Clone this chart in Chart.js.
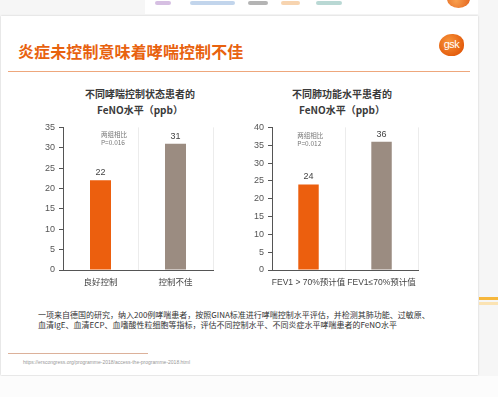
<!DOCTYPE html>
<html>
<head>
<meta charset="utf-8">
<script src="https://cdn.jsdelivr.net/npm/chart.js@4.4.1/dist/chart.umd.min.js"></script>
<style>
  html, body { margin: 0; padding: 0; }
  body {
    width: 498px; height: 397px; overflow: hidden; position: relative;
    background: #f6f6f6;
    font-family: "Liberation Sans", "Noto Sans CJK SC", sans-serif;
  }
  .strip { position: absolute; left: 145px; top: 0; width: 333px; height: 14px; background: #fff; }
  .logo-bit { position: absolute; height: 4px; top: 1px; border-radius: 2px; opacity: 0.55; }
  .card {
    position: absolute; left: 1px; top: 16px; width: 477px; height: 359px;
    background: #fff; box-shadow: 0 0 2px rgba(0,0,0,0.18);
  }
  .below { position: absolute; left: 0; top: 376px; width: 498px; height: 21px; background: #fcfcfc; }
  .title {
    position: absolute; left: 18px; top: 39px; font-size: 16px; font-weight: bold;
    color: #e8620f; font-family: "Noto Sans CJK SC", sans-serif; letter-spacing: 0.1px;
  }
  .rule { position: absolute; left: 8px; top: 71px; width: 462px; height: 1px; background: #eea77c; }
  .gsk {
    position: absolute; left: 439px; top: 34px; width: 25px; height: 22px;
    border-radius: 55% 45% 50% 50%; background: radial-gradient(circle at 40% 35%, #f8953a, #e35b0c 75%);
    color: #fff; font-size: 11px; line-height: 20px; text-align: center; letter-spacing: -0.5px;
  }
  .gsk-top {
    position: absolute; left: 447px; top: -10px; width: 23px; height: 18px;
    border-radius: 50%; background: radial-gradient(circle at 40% 60%, #f8953a, #e35b0c 75%); opacity: 0.9;
  }
  .ctitle {
    position: absolute; font-size: 10px; font-weight: bold; color: #3a3a3a; text-align: center;
    line-height: 16px; font-family: "Noto Sans CJK SC", sans-serif;
  }
  canvas { position: absolute; }
  .desc {
    position: absolute; left: 38px; top: 310px; font-size: 8px; line-height: 10px; color: #333;
    font-family: "Noto Sans CJK SC", sans-serif; white-space: nowrap;
  }
  .foot-rule { position: absolute; left: 8px; top: 353px; width: 140px; height: 1px; background: #dcb19a; }
  .url { position: absolute; left: 23px; top: 359px; font-size: 5px; color: #999; white-space: nowrap; }
  .streak { position: absolute; left: 479px; width: 19px; height: 3px; }
</style>
</head>
<body>
<div class="strip"></div>
<div class="logo-bit" style="left:155px;width:16px;background:#b48acb"></div>
<div class="logo-bit" style="left:190px;width:45px;background:#8fb3dd"></div>
<div class="logo-bit" style="left:248px;width:20px;background:#777"></div>
<div class="logo-bit" style="left:281px;width:19px;background:#f0b070"></div>
<div class="logo-bit" style="left:316px;width:26px;background:#7fb8b0"></div>
<div class="gsk-top"></div>

<div class="card"></div>
<div class="below"></div>
<div class="streak" style="top:297px;background:#f6b73c"></div>
<div class="streak" style="top:302px;background:#fbe3b3"></div>

<div class="title">炎症未控制意味着哮喘控制不佳</div>
<div class="rule"></div>
<div class="gsk">gsk</div>

<div class="ctitle" style="left:60px;top:86px;width:160px">不同哮喘控制状态患者的<br>FeNO水平（ppb）</div>
<div class="ctitle" style="left:262px;top:86px;width:160px">不同肺功能水平患者的<br>FeNO水平（ppb）</div>

<canvas id="chart_control" width="188" height="177" style="left:30px;top:118px"></canvas>
<canvas id="chart_lung" width="186" height="177" style="left:239px;top:118px"></canvas>

<div class="desc">一项来自德国的研究，纳入200例哮喘患者，按照GINA标准进行哮喘控制水平评估，并检测其肺功能、过敏原、<br>血清IgE、血清ECP、血嗜酸性粒细胞等指标，评估不同控制水平、不同炎症水平哮喘患者的FeNO水平</div>
<div class="foot-rule"></div>
<div class="url">https://erscongress.org/programme-2018/access-the-programme-2018.html</div>

<script>
// data
const control_labels = ['良好控制', '控制不佳'];
const control_values = [22, 31];
const control_note   = ['两组相比', 'P=0.016'];
const control_max    = 35;

const lung_labels = ['FEV1 > 70%预计值', 'FEV1≤70%预计值'];
const lung_values = [24, 36];
const lung_note   = ['两组相比', 'P=0.012'];
const lung_max    = 40;

const tick_step  = 5;
const bar_colors = ['#ec5f0e', '#9b8c81'];

// value labels over the bars + the small p-value note
const bar_text = {
    id: 'bar_text',
    afterDatasetsDraw(chart, args, opts) {
        const ctx = chart.ctx;
        const meta = chart.getDatasetMeta(0);
        ctx.save();
        ctx.font = '9px "Liberation Sans", sans-serif';
        ctx.fillStyle = '#444';
        ctx.textAlign = 'center';
        ctx.textBaseline = 'bottom';
        meta.data.forEach((bar, i) => {
            ctx.fillText(chart.data.datasets[0].data[i], bar.x, bar.y - 3);
        });
        // note sits just right of the first bar's left edge, near the top
        const first = meta.data[0];
        const x = first.x - first.width / 2 + opts.dx;
        const y = chart.scales.y.getPixelForValue(opts.at);
        ctx.font = '6.5px "Noto Sans CJK SC", sans-serif';
        ctx.fillStyle = '#777';
        ctx.textAlign = 'left';
        ctx.textBaseline = 'middle';
        opts.lines.forEach((line, i) => ctx.fillText(line, x, y + i * 8));
        ctx.restore();
    }
};

function make_config(labels, values, ymax, note, note_at, note_dx) {
    return {
        type: 'bar',
        data: {
            labels: labels,
            datasets: [{
                data: values,
                backgroundColor: bar_colors,
                categoryPercentage: 1,
                barPercentage: 0.28
            }]
        },
        options: {
            animation: false,
            responsive: false,
            events: [],
            layout: { padding: { top: 9, right: 5, left: 0, bottom: 0 } },
            plugins: {
                legend: { display: false },
                tooltip: { enabled: false },
                bar_text: { lines: note, at: note_at, dx: note_dx }
            },
            scales: {
                x: {
                    grid: { display: true, offset: true, color: '#ececec', drawTicks: false },
                    border: { display: true, color: '#555', width: 1 },
                    ticks: {
                        color: '#444', padding: 8, maxRotation: 0, minRotation: 0, autoSkip: false,
                        font: { size: 8.5, family: '"Liberation Sans", "Noto Sans CJK SC", sans-serif' }
                    },
                    afterFit(scale) { scale.height = 25; }
                },
                y: {
                    min: 0,
                    max: ymax,
                    grid: { display: true, drawOnChartArea: false, drawTicks: true, tickLength: 4, color: '#555' },
                    border: { display: true, color: '#555', width: 1 },
                    ticks: { stepSize: tick_step, color: '#555', padding: 4, font: { size: 9, family: '"Liberation Sans", sans-serif' } },
                    afterFit(scale) { scale.width = 33; }
                }
            }
        },
        plugins: [bar_text]
    };
}

new Chart(document.getElementById('chart_control'),
    make_config(control_labels, control_values, control_max, control_note, 33.3, 11));
new Chart(document.getElementById('chart_lung'),
    make_config(lung_labels, lung_values, lung_max, lung_note, 37.7, -1));
</script>
</body>
</html>
